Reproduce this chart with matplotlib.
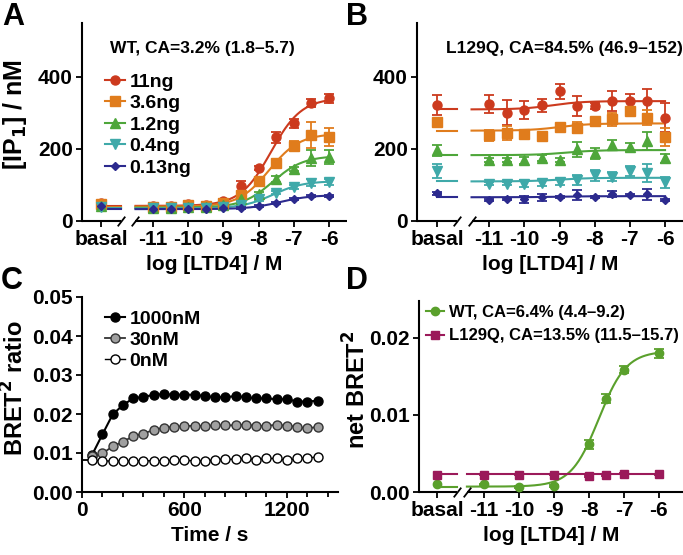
import numpy as np
import matplotlib
matplotlib.use("Agg")
import matplotlib.pyplot as plt
from matplotlib.lines import Line2D

plt.rcParams['font.family'] = ['Liberation Sans', 'DejaVu Sans']
plt.rcParams['font.weight'] = 'bold'
plt.rcParams['axes.labelweight'] = 'bold'
plt.rcParams['axes.linewidth'] = 1.5

W, H = 683, 555
fig = plt.figure(figsize=(W / 100, H / 100), dpi=100)

def fx(px):
    return px / W

def fy(py):
    return 1 - py / H

def add_axes(left, top, right, bottom):
    return fig.add_axes([fx(left), fy(bottom), fx(right - left), (bottom - top) / H])

# ---------------- data ----------------
log_x = [-11, -10.5, -10, -9.5, -9, -8.5, -8, -7.5, -7, -6.5, -6]
doses = ['11ng', '3.6ng', '1.2ng', '0.4ng', '0.13ng']
dose_colors = ['#cc3a1e', '#e07c1c', '#4ea63a', '#3fa9a9', '#2c2a8e']
dose_markers = ['o', 's', '^', 'v', 'D']
dose_msize = [6.5, 6.5, 6.5, 6.5, 4.5]

# Panel A (WT)
wt_basal = [50, 47, 42, 40, 42]
wt_basal_err = [5, 4, 4, 3, 3]
wt_vals = [
    [42, 41, 46, 44, 56, 96, 147, 232, 271, 328, 341],
    [40, 40, 45, 43, 50, 72, 111, 161, 209, 239, 234],
    [36, 37, 40, 40, 45, 60, 74, 116, 145, 175, 177],
    [35, 36, 36, 37, 40, 45, 60, 78, 95, 106, 109],
    [34, 34, 33, 34, 35, 36, 42, 51, 61, 70, 69],
]
wt_err = [
    [4, 4, 5, 4, 5, 15, 6, 15, 12, 10, 12],
    [3, 3, 4, 3, 4, 6, 8, 6, 12, 35, 25],
    [3, 3, 3, 3, 3, 5, 6, 8, 6, 22, 20],
    [2, 2, 2, 2, 3, 3, 4, 4, 5, 10, 8],
    [2, 2, 2, 2, 2, 2, 3, 3, 3, 3, 3],
]
# fit params: bottom, top, logEC50, hill
wt_fit = [
    [42, 342, -7.65, 1.0],
    [40, 243, -7.7, 1.0],
    [37, 181, -7.6, 1.0],
    [35, 111, -7.6, 1.0],
    [33, 72, -7.4, 1.0],
]

# Panel B (L129Q)
mut_basal = [323, 274, 196, 139, 77]
mut_basal_err = [28, 10, 15, 20, 4]
mut_vals = [
    [326, 301, 309, 321, 360, 319, 319, 333, 332, 333, 287],
    [238, 245, 243, 236, 260, 259, 278, 282, 305, 287, 234],
    [169, 169, 169, 176, 169, 199, 188, 211, 206, 221, 174],
    [104, 104, 104, 106, 109, 114, 127, 123, 139, 132, 107],
    [58, 60, 60, 66, 67, 72, 67, 74, 72, 74, 58],
]
mut_err = [
    [25, 35, 25, 18, 20, 27, 8, 28, 22, 35, 40],
    [15, 20, 8, 5, 10, 15, 5, 18, 10, 20, 25],
    [5, 5, 10, 8, 5, 20, 15, 15, 12, 25, 12],
    [5, 5, 10, 8, 8, 15, 15, 12, 15, 25, 15],
    [3, 3, 10, 10, 3, 15, 3, 8, 3, 15, 3],
]
mut_fit = [
    [310, 333, -9.2, 1.0],
    [251, 271, -9.0, 1.0],
    [183, 197, -8.8, 1.0],
    [110, 120, -9.0, 1.0],
    [66, 69, -9.0, 1.0],
]

# Panel C (kinetics)
time_s = [60, 120, 180, 240, 300, 360, 420, 480, 540, 600, 660, 720, 780,
          840, 900, 960, 1020, 1080, 1140, 1200, 1260, 1320, 1380]
bret_1000 = [0.0096, 0.0148, 0.0199, 0.0223, 0.0240, 0.0244, 0.0249, 0.0251,
             0.0249, 0.0250, 0.0249, 0.0246, 0.0243, 0.0243, 0.0246, 0.0243,
             0.0240, 0.0240, 0.0238, 0.0238, 0.0232, 0.0232, 0.0234]
bret_30 = [0.0093, 0.0099, 0.0117, 0.0129, 0.0143, 0.0150, 0.0159, 0.0165,
           0.0167, 0.0169, 0.0170, 0.0169, 0.0171, 0.0171, 0.0171, 0.0173,
           0.0169, 0.0170, 0.0172, 0.0170, 0.0167, 0.0163, 0.0167]
bret_0 = [0.0081, 0.0080, 0.0079, 0.0079, 0.0079, 0.0080, 0.0080, 0.0080,
          0.0081, 0.0081, 0.0080, 0.0079, 0.0083, 0.0084, 0.0084, 0.0086,
          0.0083, 0.0086, 0.0086, 0.0081, 0.0086, 0.0087, 0.0090]

# Panel D (net BRET)
d_x = [-11, -10, -9, -8, -7.5, -7, -6]
d_wt_basal = 0.0010
d_wt = [0.0010, 0.00065, 0.0008, 0.0062, 0.0121, 0.0159, 0.0180]
d_wt_err = [0.0001, 0.0001, 0.0001, 0.0006, 0.0006, 0.0005, 0.0006]
d_mut_basal = 0.00225
d_mut = [0.00225, 0.00225, 0.00225, 0.0021, 0.0022, 0.0024, 0.0023]
d_mut_err = [0.0001, 0.0001, 0.0001, 0.0001, 0.0001, 0.0001, 0.0001]
d_wt_fit = [0.0007, 0.0183, -7.72, 1.1]
d_mut_fit = [0.0023, 0.0023, -8.0, 1.0]

tick_labels = ['basal', '-11', '-10', '-9', '-8', '-7', '-6']

# ---------------- helpers ----------------
def hill(x, b, t, ec, n):
    return b + (t - b) / (1 + 10 ** ((ec - x) * n))

slash = [(-1, -1.3), (1, 1.3)]

def broken_xaxis(ax, xmin, b1, b2, xmax):
    ax.spines['bottom'].set_visible(False)
    tr = ax.get_xaxis_transform()
    ax.plot([xmin, b1], [0, 0], color='black', lw=1.5, transform=tr, clip_on=False,
            solid_capstyle='butt')
    ax.plot([b2, xmax], [0, 0], color='black', lw=1.5, transform=tr, clip_on=False,
            solid_capstyle='butt')
    ax.plot([b1, b2], [0, 0], ls='none', marker=slash, ms=7, mew=1.3, color='black',
            transform=tr, clip_on=False)

def style(ax):
    ax.spines['top'].set_visible(False)
    ax.spines['right'].set_visible(False)
    ax.tick_params(direction='out', length=4.5, width=1.3, labelsize=15, pad=2)
    for lab in ax.get_xticklabels() + ax.get_yticklabels():
        lab.set_fontweight('bold')

def dose_panel(ax, basal_pos, basal_vals, basal_err, vals, errs, fits, xlim, b1, b2):
    for i in range(len(doses)):
        c = dose_colors[i]
        xs = np.linspace(-11.5, -6, 200)
        ax.plot(xs, hill(xs, *fits[i]), color=c, lw=1.5, zorder=2)
        ax.plot([basal_pos, b1], [fits[i][0], fits[i][0]], color=c, lw=1.5, zorder=2)
        ax.errorbar(log_x, vals[i], yerr=errs[i], fmt=dose_markers[i], color=c,
                    ms=dose_msize[i], capsize=3.5, elinewidth=1.3, capthick=1.3, zorder=3)
        ax.errorbar([basal_pos], [basal_vals[i]], yerr=[basal_err[i]], fmt=dose_markers[i],
                    color=c, ms=dose_msize[i], capsize=3.5, elinewidth=1.3, capthick=1.3,
                    zorder=3)
    ax.set_xlim(*xlim)
    ax.set_ylim(0, 550)
    ax.set_yticks([0, 200, 400])
    ax.set_xticks([basal_pos, -11, -10, -9, -8, -7, -6])
    ax.set_xticklabels(tick_labels)
    broken_xaxis(ax, xlim[0], b1, b2, xlim[1])
    style(ax)
    ax.set_xlabel('log [LTD4] / M', fontsize=15, fontweight='bold', labelpad=4)

# ---------------- Panel A ----------------
axA = add_axes(82, 23, 347, 221)
dose_panel(axA, -12.48, wt_basal, wt_basal_err, wt_vals, wt_err, wt_fit,
           (-13.02, -5.49), -11.9, -11.5)
axA.set_ylabel('[IP$_\\mathbf{1}$] / nM', fontsize=18, fontweight='bold')
axA.yaxis.set_label_coords((29 - 82) / 265, (221 - 115) / 198)
handles = [Line2D([], [], color=dose_colors[i], marker=dose_markers[i],
                  ms=dose_msize[i], lw=1.5) for i in range(len(doses))]
legA = axA.legend(handles, doses, loc='upper left', frameon=False, fontsize=14,
                  handlelength=1.05, handletextpad=0.2, labelspacing=0.2, borderpad=0,
                  borderaxespad=0, bbox_to_anchor=(fx(105), fy(73)),
                  bbox_transform=fig.transFigure)
for t in legA.get_texts():
    t.set_fontweight('bold')
fig.text(fx(110), fy(49), 'WT, CA=3.2% (1.8–5.7)', fontsize=12.5, fontweight='bold',
         va='center', ha='left')

# ---------------- Panel B ----------------
axB = add_axes(417, 23, 683, 221)
dose_panel(axB, -12.48, mut_basal, mut_basal_err, mut_vals, mut_err, mut_fit,
           (-13.05, -5.49), -11.9, -11.48)
fig.text(fx(446), fy(49), 'L129Q, CA=84.5% (46.9–152)', fontsize=12.5, fontweight='bold',
         va='center', ha='left')

# ---------------- Panel C ----------------
axC = add_axes(82, 297, 338, 492)
axC.plot([0] + time_s[:1], bret_0[:1] * 2, color='black', lw=1.3, zorder=2)
axC.plot(time_s, bret_1000, '-o', color='black', mfc='black', mec='black', ms=6.5,
         lw=1.5, label='1000nM', zorder=3)
axC.plot(time_s, bret_30, '-o', color='#333333', mfc='#a0a0a0', mec='#333333', ms=6.5,
         lw=1.3, label='30nM', zorder=3)
axC.plot(time_s, bret_0, '-o', color='black', mfc='white', mec='black', ms=6.5,
         mew=1.0, lw=1.0, label='0nM', zorder=3)
axC.set_xlim(0, 1500)
axC.set_ylim(0, 0.05)
axC.set_xticks([0, 600, 1200])
axC.set_xticks(np.arange(0, 1500, 120), minor=True)
axC.set_yticks([0, 0.01, 0.02, 0.03, 0.04, 0.05])
axC.set_yticklabels(['0.00', '0.01', '0.02', '0.03', '0.04', '0.05'])
style(axC)
axC.tick_params(which='minor', direction='out', length=3.5, width=1.3)
axC.set_xlabel('Time / s', fontsize=15, fontweight='bold', labelpad=4)
axC.set_ylabel('BRET$^\\mathbf{2}$ ratio', fontsize=17, fontweight='bold')
axC.yaxis.set_label_coords((29 - 82) / 256, (492 - 388) / 195)
legC = axC.legend(loc='upper left', frameon=False, fontsize=14, handlelength=1.05,
                  handletextpad=0.2, labelspacing=0.18, borderpad=0, borderaxespad=0,
                  bbox_to_anchor=(fx(105), fy(310)), bbox_transform=fig.transFigure)
for t in legC.get_texts():
    t.set_fontweight('bold')

# ---------------- Panel D ----------------
axD = add_axes(419, 301, 683, 492)
bD = -12.34
xs = np.linspace(-11.49, -6, 200)
axD.plot(xs, hill(xs, *d_wt_fit), color='#5aa02c', lw=1.5, zorder=2)
axD.plot([bD, -11.77], [d_wt_fit[0]] * 2, color='#5aa02c', lw=1.5, zorder=2)
axD.plot(xs, hill(xs, *d_mut_fit), color='#9b1a5a', lw=1.5, zorder=2)
axD.plot([bD, -11.77], [d_mut_fit[0]] * 2, color='#9b1a5a', lw=1.5, zorder=2)
axD.errorbar(d_x, d_wt, yerr=d_wt_err, fmt='o', color='#5aa02c', ms=6, capsize=3.5,
             elinewidth=1.3, capthick=1.3, zorder=3)
axD.errorbar([bD], [d_wt_basal], fmt='o', color='#5aa02c', ms=6, zorder=3)
axD.errorbar(d_x, d_mut, yerr=d_mut_err, fmt='s', color='#9b1a5a', ms=5.5, capsize=3.5,
             elinewidth=1.3, capthick=1.3, zorder=3)
axD.errorbar([bD], [d_mut_basal], fmt='s', color='#9b1a5a', ms=5.5, zorder=3)
axD.set_xlim(-12.86, -5.31)
axD.set_ylim(0, 0.0248)
axD.set_yticks([0, 0.01, 0.02])
axD.set_yticklabels(['0.00', '0.01', '0.02'])
axD.set_xticks([bD, -11, -10, -9, -8, -7, -6])
axD.set_xticklabels(tick_labels)
broken_xaxis(axD, -12.86, -11.77, -11.49, -5.31)
style(axD)
axD.set_xlabel('log [LTD4] / M', fontsize=15, fontweight='bold', labelpad=4)
axD.set_ylabel('net BRET$^\\mathbf{2}$', fontsize=17, fontweight='bold')
axD.yaxis.set_label_coords((371 - 419) / 264, (492 - 390) / 191)
hD = [Line2D([], [], color='#5aa02c', marker='o', ms=6, lw=1.5),
      Line2D([], [], color='#9b1a5a', marker='s', ms=5.5, lw=1.5)]
legD = axD.legend(hD, ['WT, CA=6.4% (4.4–9.2)', 'L129Q, CA=13.5% (11.5–15.7)'],
                  loc='upper left', frameon=False, fontsize=12, handlelength=1.1,
                  handletextpad=0.3, labelspacing=0.5, borderpad=0, borderaxespad=0,
                  bbox_to_anchor=(fx(426), fy(305)), bbox_transform=fig.transFigure)
for t in legD.get_texts():
    t.set_fontweight('bold')

# ---------------- panel letters ----------------
for letter, px, py in [('A', 2, 17), ('B', 346, 17), ('C', 1, 281), ('D', 346, 281)]:
    fig.text(fx(px), fy(py), letter, fontsize=22, fontweight='bold', va='center', ha='left')

fig.savefig('out.png', dpi=100)
